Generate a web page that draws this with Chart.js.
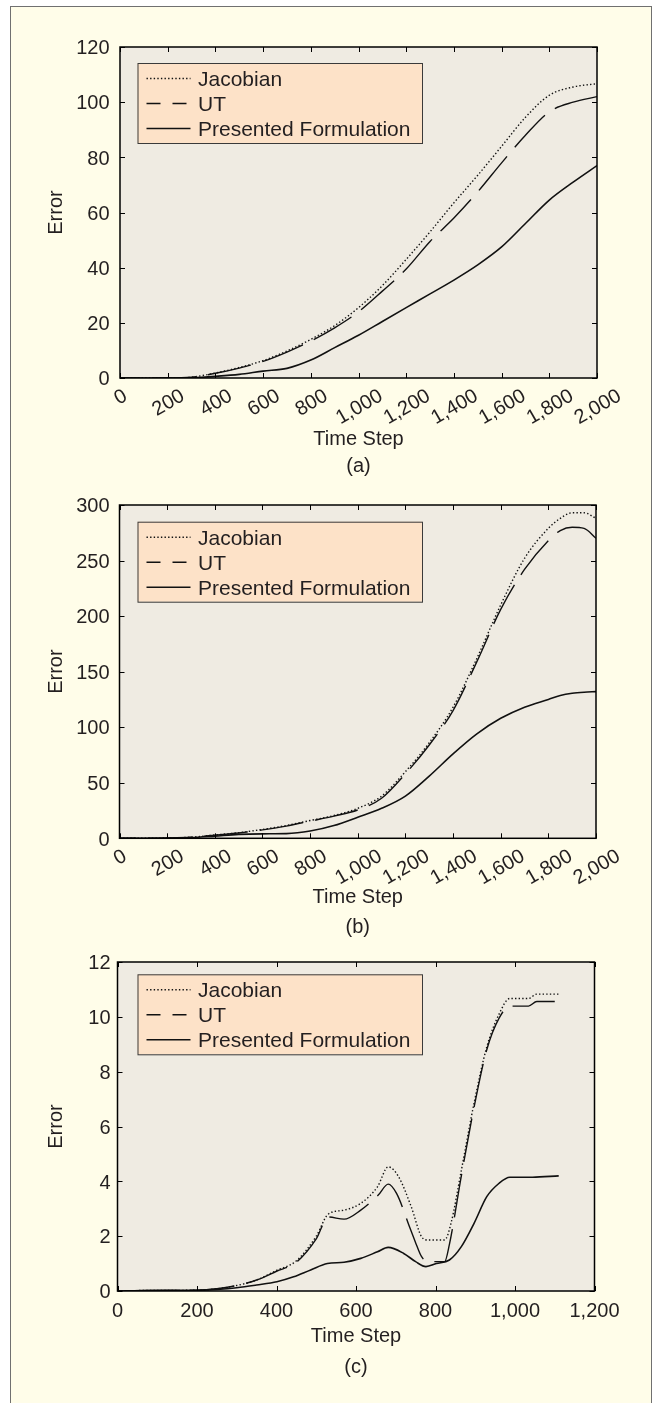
<!DOCTYPE html>
<html>
<head>
<meta charset="utf-8">
<script src="https://cdn.jsdelivr.net/npm/chart.js@4.4.1/dist/chart.umd.min.js"></script>
<style>
  html, body { margin: 0; padding: 0; background: #fff; }
  body { width: 657px; height: 1403px; position: relative; overflow: hidden; }
  #frame { position: absolute; left: 10px; top: 6px; width: 640px; height: 1440px;
           border: 1.5px solid #707070; background: #fffde9; }
  canvas { position: absolute; left: 0; }
</style>
</head>
<body>
<div id="frame"></div>
<canvas id="chartA" width="657" height="480" style="top:0px"></canvas>
<canvas id="chartB" width="657" height="475" style="top:470px"></canvas>
<canvas id="chartC" width="657" height="468" style="top:935px"></canvas>

<script>
// ── DATA ─────────────────────────────────────────────────────────────────────
const LEGEND_LABELS = ['Jacobian', 'UT', 'Presented Formulation'];
const X_TITLE = 'Time Step';
const Y_TITLE = 'Error';

// (a)
const stepsA     = [0,100,200,300,400,500,600,700,800,900,1000,1100,1200,1300,1400,1500,1600,1700,1800,1900,2000];
const jacobianA  = [0,0,0,0.3,1.8,3.8,6.3,9.8,14,19,25.5,33.5,43,53,63.5,73.5,84,94.5,102.5,105.5,106.7];
const utA        = [0,0,0,0.3,1.7,3.6,6.0,9.4,13.4,18.2,24,31.5,39.5,49.5,58,67.5,78,88,96.5,100,102];
const presentedA = [0,0,0,0.1,0.6,1.3,2.5,3.5,6.5,11,15.5,20.5,25.5,30.5,35.5,41,47.5,56,64.5,71,77];
const xTicksA = [0,200,400,600,800,1000,1200,1400,1600,1800,2000];
const yTicksA = [0,20,40,60,80,100,120];

// (b)
const stepsB     = [0,100,200,300,400,500,600,700,800,900,1000,1100,1200,1300,1400,1500,1600,1700,1800,1850,1900,1950,2000];
const jacobianB  = [0,0,0.3,1,3,5,8,11.5,16,20.5,27,38,60,86,118,162,210,252,279,288,293,293,288];
const utB        = [0,0,0.3,1,2.8,4.8,7.6,11,15.5,20,25.5,36,58,84,115,159,206,242,268,277,280,279,270];
const presentedB = [0,0,0.1,0.6,2,3.5,4,4.2,6.5,11.5,19,27,38,56,76,94,108,118,125,128.5,130.5,131.5,132];
const xTicksB = [0,200,400,600,800,1000,1200,1400,1600,1800,2000];
const yTicksB = [0,50,100,150,200,250,300];

// (c)
const stepsJacC     = [0,75,200,250,300,350,400,450,500,530,570,612,654,681,707,739,765,781,823,839,865,897,929,960,987,1034,1055,1110];
const jacobianC     = [0,0.02,0.03,0.08,0.2,0.4,0.75,1.1,2.0,2.8,2.95,3.2,3.8,4.53,4.17,3.07,1.98,1.86,1.86,2.47,4.4,6.85,8.9,10.1,10.67,10.67,10.83,10.83];
const stepsUtC      = [0,75,200,250,300,350,400,450,500,530,570,612,656,681,702,737,749,765,781,823,835,865,897,929,960,987,1034,1055,1100];
const utC           = [0,0.02,0.03,0.08,0.2,0.4,0.72,1.05,1.9,2.7,2.62,2.95,3.5,3.9,3.56,2.25,1.8,1.25,1.07,1.07,1.7,4.2,6.7,8.8,9.95,10.39,10.39,10.56,10.56];
const stepsPresC    = [0,75,200,250,300,350,401,443,486,528,570,612,654,681,720,750,776,802,835,865,897,929,960,987,1044,1110];
const presentedC    = [0,0.02,0.03,0.06,0.12,0.22,0.34,0.52,0.77,1.0,1.05,1.19,1.43,1.59,1.37,1.07,0.89,1.0,1.13,1.62,2.47,3.44,3.93,4.15,4.15,4.2];
const xTicksC = [0,200,400,600,800,1000,1200];
const yTicksC = [0,2,4,6,8,10,12];

// ── STYLE ────────────────────────────────────────────────────────────────────
const FONT      = '20px "Liberation Sans", Arial, sans-serif';
const FONT_LEG  = '21px "Liberation Sans", Arial, sans-serif';
const INK       = '#231f20';
const PLOT_BG   = '#efebe2';
const LEGEND_BG = '#fde2c8';
const CAP       = 14.4;   // approx cap height of the 20px font

const UT_DASH = [44, 12];
const LINES = [
  { dash: [1.4, 2.2], width: 1.4, legendDash: [1.4, 2.2] },  // Jacobian
  { dash: UT_DASH,    width: 1.4, legendDash: [14, 12] },    // UT
  { dash: [],         width: 1.6, legendDash: [] },          // Presented
];

// ── HELPERS ──────────────────────────────────────────────────────────────────
const pts = (xs, ys) => xs.map((x, i) => ({ x, y: ys[i] }));
const fmt = v => v.toLocaleString('en-US');

function dataset(xs, ys, i) {
  return {
    label: LEGEND_LABELS[i],
    data: pts(xs, ys),
    borderColor: '#111',
    borderWidth: LINES[i].width,
    borderDash: LINES[i].dash,
    pointRadius: 0,
    fill: false,
    cubicInterpolationMode: 'monotone',
    borderJoinStyle: 'round',
  };
}

// arc length of the drawn (bezier) UT path up to data value xStop,
// used to put one dash gap where the original figure has it
function pathLengthTo(meta, xStop) {
  const els = meta.data;
  let len = 0;
  for (let i = 1; i < els.length; i++) {
    const p = els[i - 1], q = els[i];
    const stop = q.$context?.raw?.x > xStop;
    let px = p.x, py = p.y;
    for (let k = 1; k <= 12; k++) {
      const t = k / 12, u = 1 - t;
      const x = u*u*u*p.x + 3*u*u*t*p.cp2x + 3*u*t*t*q.cp1x + t*t*t*q.x;
      const y = u*u*u*p.y + 3*u*u*t*p.cp2y + 3*u*t*t*q.cp1y + t*t*t*q.y;
      if (stop && meta.iScale.getValueForPixel(x) > xStop) return len;
      len += Math.hypot(x - px, y - py);
      px = x; py = y;
    }
  }
  return len;
}

// frame, inward ticks, tick labels, titles and the boxed legend
function makeFrame(cfg) {
  return {
    id: 'frame',
    beforeDraw(chart) {
      const { ctx, chartArea: a } = chart;
      ctx.save();
      ctx.fillStyle = PLOT_BG;
      ctx.fillRect(a.left, a.top, a.right - a.left, a.bottom - a.top);
      ctx.restore();
    },
    beforeDatasetsDraw(chart) {
      const meta = chart.getDatasetMeta(1);
      const period = UT_DASH[0] + UT_DASH[1];
      const L = pathLengthTo(meta, cfg.utGapAt);
      meta.dataset.options.borderDashOffset = ((UT_DASH[0] - L) % period + period) % period;
    },
    afterDraw(chart) {
      const { ctx, chartArea: a, scales: { x, y } } = chart;
      ctx.save();

      // ticks (inward, all four sides)
      ctx.strokeStyle = '#000';
      ctx.lineWidth = 1;
      ctx.beginPath();
      cfg.xTicks.forEach(v => {
        const px = Math.round(x.getPixelForValue(v)) + 0.5;
        ctx.moveTo(px, a.bottom); ctx.lineTo(px, a.bottom - 5);
        ctx.moveTo(px, a.top);    ctx.lineTo(px, a.top + 5);
      });
      cfg.yTicks.forEach(v => {
        const py = Math.round(y.getPixelForValue(v)) + 0.5;
        ctx.moveTo(a.left, py);  ctx.lineTo(a.left + 5, py);
        ctx.moveTo(a.right, py); ctx.lineTo(a.right - 5, py);
      });
      ctx.stroke();

      // plot border
      ctx.lineWidth = 1.5;
      ctx.strokeRect(a.left, a.top, a.right - a.left, a.bottom - a.top);

      // y tick labels
      ctx.fillStyle = INK;
      ctx.font = FONT;
      ctx.textAlign = 'right';
      ctx.textBaseline = 'alphabetic';
      cfg.yTicks.forEach(v => {
        ctx.fillText(fmt(v), a.left - cfg.yGap, y.getPixelForValue(v) + CAP / 2);
      });

      // x tick labels
      ctx.textAlign = 'center';
      cfg.xTicks.forEach(v => {
        const label = fmt(v);
        const px = x.getPixelForValue(v);
        if (cfg.rotate) {
          const w = ctx.measureText(label).width;
          const ext = w * Math.sin(Math.PI / 6) + CAP * Math.cos(Math.PI / 6);
          ctx.save();
          ctx.translate(px, a.bottom + 9 + ext / 2);
          ctx.rotate(-Math.PI / 6);
          ctx.fillText(label, 0, CAP / 2);
          ctx.restore();
        } else {
          ctx.fillText(label, px, a.bottom + 26);
        }
      });

      // axis titles + caption
      const midX = (a.left + a.right) / 2;
      ctx.fillText(X_TITLE, midX, a.bottom + cfg.titleOff);
      ctx.fillText(cfg.caption, midX, a.bottom + cfg.captionOff);
      ctx.save();
      ctx.translate(61.5, (a.top + a.bottom) / 2);
      ctx.rotate(-Math.PI / 2);
      ctx.fillText(Y_TITLE, 0, 0);
      ctx.restore();

      // legend
      const lx = a.left + cfg.legend.dx, ly = a.top + cfg.legend.dy;
      const lw = 284.5, lh = 80;
      ctx.fillStyle = LEGEND_BG;
      ctx.fillRect(lx, ly, lw, lh);
      ctx.strokeStyle = '#3a3a3a';
      ctx.lineWidth = 1;
      ctx.strokeRect(lx + 0.5, ly + 0.5, lw, lh);
      ctx.font = FONT_LEG;
      ctx.textAlign = 'left';
      LEGEND_LABELS.forEach((name, i) => {
        const ry = ly + 15.5 + i * 25;
        ctx.strokeStyle = '#111';
        ctx.lineWidth = LINES[i].width;
        ctx.setLineDash(LINES[i].legendDash);
        ctx.beginPath();
        ctx.moveTo(lx + 9, ry); ctx.lineTo(lx + 53, ry);
        ctx.stroke();
        ctx.setLineDash([]);
        ctx.fillStyle = INK;
        ctx.fillText(name, lx + 60.5, ry + 7.6);
      });
      ctx.restore();
    },
  };
}

function drawChart(id, cfg) {
  new Chart(document.getElementById(id), {
    type: 'line',
    data: { datasets: cfg.series.map((s, i) => dataset(s[0], s[1], i)) },
    options: {
      responsive: false,
      animation: false,
      layout: { padding: cfg.padding },
      plugins: { legend: { display: false }, tooltip: { enabled: false } },
      scales: {
        x: { type: 'linear', min: 0, max: cfg.xMax, display: false },
        y: { type: 'linear', min: 0, max: cfg.yMax, display: false },
      },
    },
    plugins: [makeFrame(cfg)],
  });
}

// ── INIT ─────────────────────────────────────────────────────────────────────
drawChart('chartA', {
  series: [[stepsA, jacobianA], [stepsA, utA], [stepsA, presentedA]],
  xTicks: xTicksA, yTicks: yTicksA, xMax: 2000, yMax: 120,
  padding: { left: 120, top: 47, right: 60, bottom: 102 },
  rotate: true, yGap: 10.5, titleOff: 67, captionOff: 94, caption: '(a)',
  legend: { dx: 17.5, dy: 16 }, utGapAt: 1306,
});

drawChart('chartB', {
  series: [[stepsB, jacobianB], [stepsB, utB], [stepsB, presentedB]],
  xTicks: xTicksB, yTicks: yTicksB, xMax: 2000, yMax: 300,
  padding: { left: 119.5, top: 35, right: 61, bottom: 106.7 },
  rotate: true, yGap: 10, titleOff: 65, captionOff: 95, caption: '(b)',
  legend: { dx: 18, dy: 16.7 }, utGapAt: 1705,
});

drawChart('chartC', {
  series: [[stepsJacC, jacobianC], [stepsUtC, utC], [stepsPresC, presentedC]],
  xTicks: xTicksC, yTicks: yTicksC, xMax: 1200, yMax: 12,
  padding: { left: 117.5, top: 27, right: 62.5, bottom: 112 },
  rotate: false, yGap: 7, titleOff: 50.7, captionOff: 82, caption: '(c)',
  legend: { dx: 20, dy: 12.3 }, utGapAt: 656,
});
</script>
</body>
</html>
